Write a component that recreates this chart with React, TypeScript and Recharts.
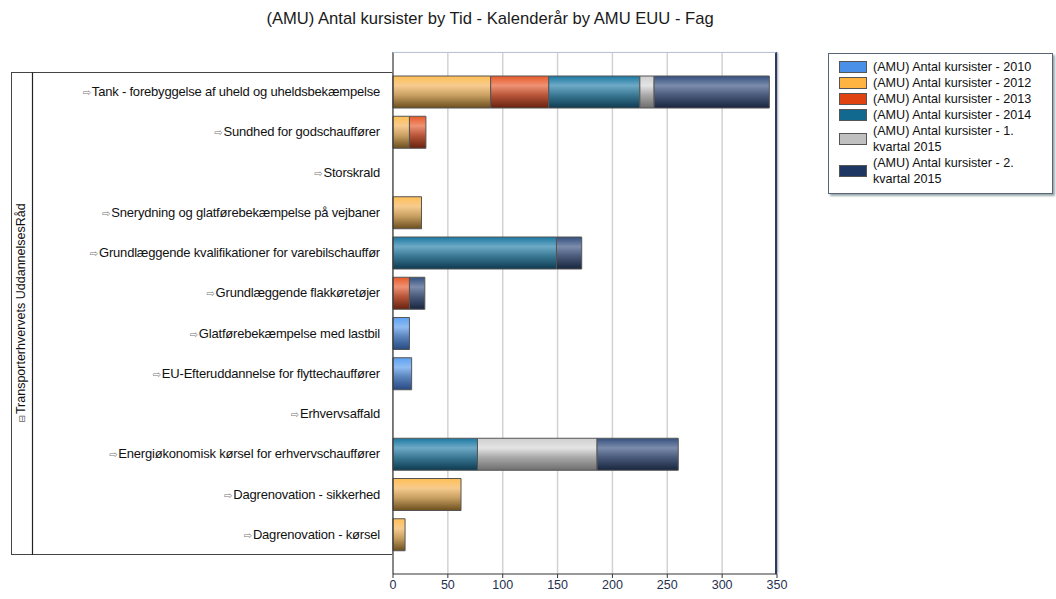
import React from 'react';
import { BarChart, Bar, XAxis, YAxis, CartesianGrid, Legend } from 'recharts';

const categories = [
  'Tank - forebyggelse af uheld og uheldsbekæmpelse',
  'Sundhed for godschauffører',
  'Storskrald',
  'Snerydning og glatførebekæmpelse på vejbaner',
  'Grundlæggende kvalifikationer for varebilschauffør',
  'Grundlæggende flakkøretøjer',
  'Glatførebekæmpelse med lastbil',
  'EU-Efteruddannelse for flyttechauffører',
  'Erhvervsaffald',
  'Energiøkonomisk kørsel for erhvervschauffører',
  'Dagrenovation - sikkerhed',
  'Dagrenovation - kørsel',
];

const y2010 = [0, 0, 0, 0, 0, 0, 15, 17, 0, 0, 0, 0];
const y2012 = [89, 15, 0, 26, 0, 0, 0, 0, 0, 0, 62, 11];
const y2013 = [53, 15, 0, 0, 0, 15, 0, 0, 0, 0, 0, 0];
const y2014 = [83, 0, 0, 0, 149, 0, 0, 0, 0, 77, 0, 0];
const q1of2015 = [13, 0, 0, 0, 0, 0, 0, 0, 0, 109, 0, 0];
const q2of2015 = [105, 0, 0, 0, 23, 14, 0, 0, 0, 74, 0, 0];

const xTicks = [0, 50, 100, 150, 200, 250, 300, 350];

const seriesInfo = [
  { key: 's2010', name: '(AMU) Antal kursister - 2010', color: '#4a8fe8', stops: ['#5da2f2', '#8fbcf2', '#5a82bc', '#284a82'] },
  { key: 's2012', name: '(AMU) Antal kursister - 2012', color: '#ffb340', stops: ['#ffbf55', '#f7cb8e', '#c8a062', '#6c4e1e'] },
  { key: 's2013', name: '(AMU) Antal kursister - 2013', color: '#df4410', stops: ['#e85a28', '#ef9274', '#b8553a', '#66220e'] },
  { key: 's2014', name: '(AMU) Antal kursister - 2014', color: '#12698f', stops: ['#1b78a2', '#6eaac6', '#3a7894', '#0e3a50'] },
  { key: 'q1', name: '(AMU) Antal kursister - 1. kvartal 2015', color: '#c0c0c0', stops: ['#cfcfcf', '#e4e4e4', '#a8a8a8', '#6e6e6e'] },
  { key: 'q2', name: '(AMU) Antal kursister - 2. kvartal 2015', color: '#1e3762', stops: ['#33507e', '#7c8cac', '#4a5a7a', '#18263e'] },
];

const data = categories.map((c, i) => ({
  name: c,
  s2010: y2010[i],
  s2012: y2012[i],
  s2013: y2013[i],
  s2014: y2014[i],
  q1: q1of2015[i],
  q2: q2of2015[i],
}));

const font = '"Liberation Sans", Arial, sans-serif';

const CategoryTick = (props: any) => {
  const { y, payload } = props;
  return (
    <text x={380} y={y} dy={4} textAnchor="end" fontFamily={font} fontSize={13} fill="#111" letterSpacing={-0.2}>
      <tspan fontFamily="DejaVu Sans" fontSize={10} fill="#777">⇨</tspan>
      <tspan dx={1}>{payload.value}</tspan>
    </text>
  );
};

const LegendBox = () => (
  <div
    style={{
      position: 'absolute',
      left: 828,
      top: 53,
      width: 225,
      height: 141,
      border: '1px solid #5a6478',
      boxShadow: '2px 2px 2px #9aa',
      background: '#fff',
      fontFamily: font,
      fontSize: 12.6,
      color: '#111',
      boxSizing: 'border-box',
      paddingTop: 5,
    }}
  >
    {seriesInfo.map((s) => (
      <div key={s.key} style={{ display: 'flex', alignItems: 'center', marginLeft: 10, lineHeight: '16px' }}>
        <div style={{ width: 26, height: 10, background: s.color, border: '1px solid #555', flexShrink: 0, marginRight: 6 }} />
        <div style={{ width: 170 }}>{s.name}</div>
      </div>
    ))}
  </div>
);

export default function App() {
  return (
    <div style={{ position: 'absolute', left: 0, top: 0, width: 1056, height: 599, background: '#fff' }}>
      <div
        style={{
          position: 'absolute',
          left: 0,
          width: 980,
          top: 9,
          textAlign: 'center',
          fontFamily: font,
          fontSize: 16.6,
          color: '#1a1a1a',
        }}
      >
        (AMU) Antal kursister by Tid - Kalenderår by AMU EUU - Fag
      </div>

      {/* group box left of the category labels */}
      <svg style={{ position: 'absolute', left: 0, top: 0 }} width={400} height={599}>
        <rect x={11.5} y={72.5} width={381} height={482} fill="none" stroke="#444" strokeWidth={1} />
        <line x1={32.5} y1={72.5} x2={32.5} y2={555} stroke="#222" strokeWidth={1.2} />
        <text
          transform="translate(25,313) rotate(-90)"
          textAnchor="middle"
          fontFamily={font}
          fontSize={12.5}
          fill="#111"
        >
          <tspan fontFamily="DejaVu Sans" fontSize={9} fill="#666">⊟</tspan>
          <tspan dx={1}>Transporterhvervets UddannelsesRåd</tspan>
        </text>
      </svg>

      <div style={{ position: 'absolute', left: 0, top: 0 }}>
        <BarChart
          width={1056}
          height={599}
          data={data}
          layout="vertical"
          barSize={32}
          margin={{ top: 52, right: 279, left: 10, bottom: 0 }}
        >
          <defs>
            {seriesInfo.map((s) => (
              <linearGradient key={s.key} id={`grad${s.key}`} x1="0" y1="0" x2="0" y2="1">
                <stop offset="0%" stopColor={s.stops[0]} />
                <stop offset="30%" stopColor={s.stops[1]} />
                <stop offset="60%" stopColor={s.stops[2]} />
                <stop offset="100%" stopColor={s.stops[3]} />
              </linearGradient>
            ))}
          </defs>
          <CartesianGrid horizontal={false} stroke="#d2d2d2" strokeWidth={1.5} />
          <XAxis
            type="number"
            domain={[0, 350]}
            ticks={xTicks}
            interval={0}
            height={25}
            axisLine={{ stroke: '#333' }}
            tickLine={{ stroke: '#333' }}
            tickSize={4}
            tick={{ fontSize: 12.5, fontFamily: font, fill: '#1f3050' }}
          />
          <YAxis
            type="category"
            dataKey="name"
            width={383}
            padding={{ top: 20, bottom: 19 }}
            axisLine={{ stroke: '#333' }}
            tickLine={false}
            tick={<CategoryTick />}
            interval={0}
          />
          <Legend content={() => null} />
          {seriesInfo.map((s) => (
            <Bar
              key={s.key}
              dataKey={s.key}
              name={s.name}
              stackId="a"
              fill={`url(#grad${s.key})`}
              stroke="#555"
              strokeWidth={1}
              isAnimationActive={false}
            />
          ))}
        </BarChart>
      </div>

      {/* plot frame: top and right edges */}
      <div
        style={{
          position: 'absolute',
          left: 393,
          top: 52,
          width: 384,
          height: 522,
          borderTop: '1px solid #b8c4d6',
          borderRight: '2px solid #2c3c5c',
          boxShadow: '2px 0 2px -1px #aab',
          boxSizing: 'border-box',
          pointerEvents: 'none',
        }}
      />

      <LegendBox />
    </div>
  );
}
